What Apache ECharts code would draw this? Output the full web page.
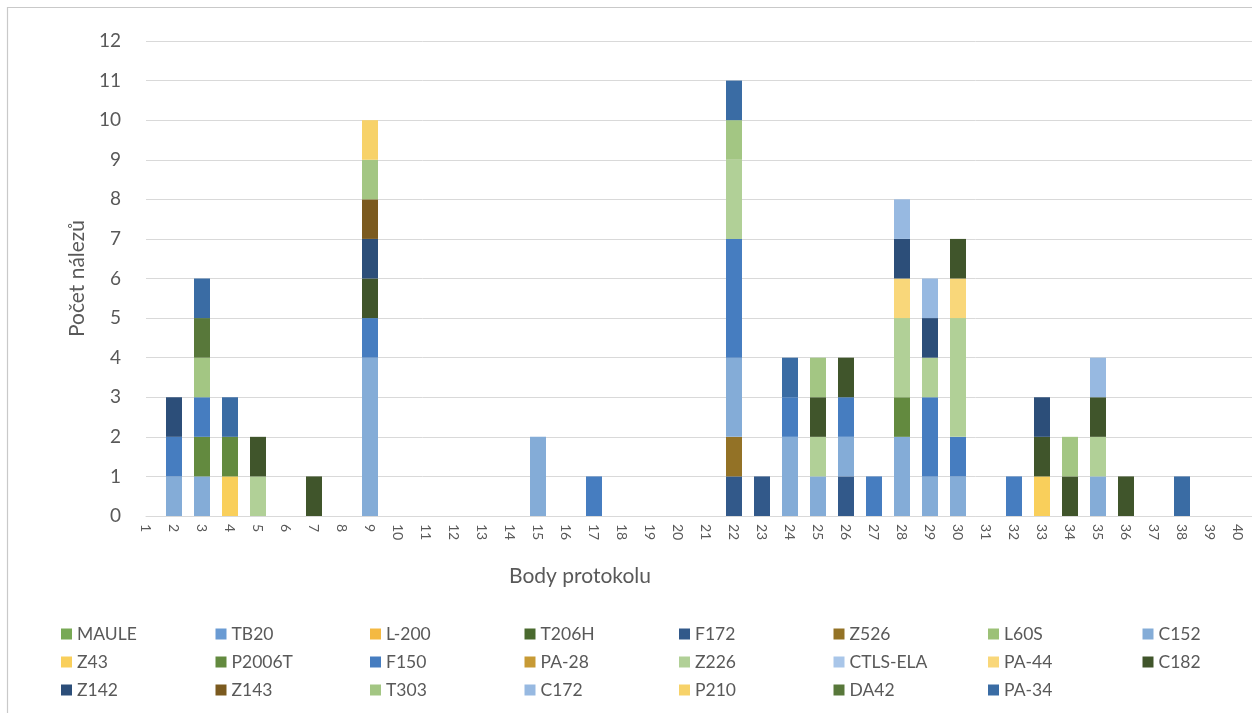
<!DOCTYPE html>
<html>
<head>
<meta charset="utf-8">
<script src="https://cdn.jsdelivr.net/npm/echarts@6/dist/echarts.min.js"></script>
<style>
html,body{margin:0;padding:0;background:#fff;}
#chart{width:1252px;height:713px;}
</style>
</head>
<body>
<div id="chart"></div>
<script>
// Categories (Body protokolu 1..40)
const categories = ['1','2','3','4','5','6','7','8','9','10','11','12','13','14','15','16','17','18','19','20',
                    '21','22','23','24','25','26','27','28','29','30','31','32','33','34','35','36','37','38','39','40'];
const yTicks = [0,1,2,3,4,5,6,7,8,9,10,11,12];

// Series values, one per category (1..40)
//                 1 2 3 4 5 6 7 8 9 10  11 12 13 14 15 16 17 18 19 20  21 22 23 24 25 26 27 28 29 30  31 32 33 34 35 36 37 38 39 40
const MAULE    = [0,0,0,0,0,0,0,0,0,0, 0,0,0,0,0,0,0,0,0,0, 0,0,0,0,0,0,0,0,0,0, 0,0,0,0,0,0,0,0,0,0];
const TB20     = [0,0,0,0,0,0,0,0,0,0, 0,0,0,0,0,0,0,0,0,0, 0,0,0,0,0,0,0,0,0,0, 0,0,0,0,0,0,0,0,0,0];
const L200     = [0,0,0,0,0,0,0,0,0,0, 0,0,0,0,0,0,0,0,0,0, 0,0,0,0,0,0,0,0,0,0, 0,0,0,0,0,0,0,0,0,0];
const T206H    = [0,0,0,0,0,0,0,0,0,0, 0,0,0,0,0,0,0,0,0,0, 0,0,0,0,0,0,0,0,0,0, 0,0,0,0,0,0,0,0,0,0];
const F172     = [0,0,0,0,0,0,0,0,0,0, 0,0,0,0,0,0,0,0,0,0, 0,1,1,0,0,1,0,0,0,0, 0,0,0,0,0,0,0,0,0,0];
const Z526     = [0,0,0,0,0,0,0,0,0,0, 0,0,0,0,0,0,0,0,0,0, 0,1,0,0,0,0,0,0,0,0, 0,0,0,0,0,0,0,0,0,0];
const L60S     = [0,0,0,0,0,0,0,0,0,0, 0,0,0,0,0,0,0,0,0,0, 0,0,0,0,0,0,0,0,0,0, 0,0,0,0,0,0,0,0,0,0];
const C152     = [0,1,1,0,0,0,0,0,4,0, 0,0,0,0,2,0,0,0,0,0, 0,2,0,2,1,1,0,2,1,1, 0,0,0,0,1,0,0,0,0,0];
const Z43      = [0,0,0,1,0,0,0,0,0,0, 0,0,0,0,0,0,0,0,0,0, 0,0,0,0,0,0,0,0,0,0, 0,0,1,0,0,0,0,0,0,0];
const P2006T   = [0,0,1,1,0,0,0,0,0,0, 0,0,0,0,0,0,0,0,0,0, 0,0,0,0,0,0,0,1,0,0, 0,0,0,0,0,0,0,0,0,0];
const F150     = [0,1,1,0,0,0,0,0,1,0, 0,0,0,0,0,0,1,0,0,0, 0,3,0,1,0,1,1,0,2,1, 0,1,0,0,0,0,0,0,0,0];
const PA28     = [0,0,0,0,0,0,0,0,0,0, 0,0,0,0,0,0,0,0,0,0, 0,0,0,0,0,0,0,0,0,0, 0,0,0,0,0,0,0,0,0,0];
const Z226     = [0,0,0,0,1,0,0,0,0,0, 0,0,0,0,0,0,0,0,0,0, 0,2,0,0,1,0,0,2,1,3, 0,0,0,0,1,0,0,0,0,0];
const CTLSELA  = [0,0,0,0,0,0,0,0,0,0, 0,0,0,0,0,0,0,0,0,0, 0,0,0,0,0,0,0,0,0,0, 0,0,0,0,0,0,0,0,0,0];
const PA44     = [0,0,0,0,0,0,0,0,0,0, 0,0,0,0,0,0,0,0,0,0, 0,0,0,0,0,0,0,1,0,1, 0,0,0,0,0,0,0,0,0,0];
const C182     = [0,0,0,0,1,0,1,0,1,0, 0,0,0,0,0,0,0,0,0,0, 0,0,0,0,1,1,0,0,0,1, 0,0,1,1,1,1,0,0,0,0];
const Z142     = [0,1,0,0,0,0,0,0,1,0, 0,0,0,0,0,0,0,0,0,0, 0,0,0,0,0,0,0,1,1,0, 0,0,1,0,0,0,0,0,0,0];
const Z143     = [0,0,0,0,0,0,0,0,1,0, 0,0,0,0,0,0,0,0,0,0, 0,0,0,0,0,0,0,0,0,0, 0,0,0,0,0,0,0,0,0,0];
const T303     = [0,0,1,0,0,0,0,0,1,0, 0,0,0,0,0,0,0,0,0,0, 0,1,0,0,1,0,0,0,0,0, 0,0,0,1,0,0,0,0,0,0];
const C172     = [0,0,0,0,0,0,0,0,0,0, 0,0,0,0,0,0,0,0,0,0, 0,0,0,0,0,0,0,1,1,0, 0,0,0,0,1,0,0,0,0,0];
const P210     = [0,0,0,0,0,0,0,0,1,0, 0,0,0,0,0,0,0,0,0,0, 0,0,0,0,0,0,0,0,0,0, 0,0,0,0,0,0,0,0,0,0];
const DA42     = [0,0,1,0,0,0,0,0,0,0, 0,0,0,0,0,0,0,0,0,0, 0,0,0,0,0,0,0,0,0,0, 0,0,0,0,0,0,0,0,0,0];
const PA34     = [0,0,1,1,0,0,0,0,0,0, 0,0,0,0,0,0,0,0,0,0, 0,1,0,1,0,0,0,0,0,0, 0,0,0,0,0,0,0,1,0,0];

const seriesNames = ['MAULE','TB20','L-200','T206H','F172','Z526','L60S','C152','Z43','P2006T','F150','PA-28',
                     'Z226','CTLS-ELA','PA-44','C182','Z142','Z143','T303','C172','P210','DA42','PA-34'];
const seriesValues = [MAULE,TB20,L200,T206H,F172,Z526,L60S,C152,Z43,P2006T,F150,PA28,
                      Z226,CTLSELA,PA44,C182,Z142,Z143,T303,C172,P210,DA42,PA34];
const seriesColors = ['#78A955','#6A9BD3','#F4B942','#4A6A2F','#32598A','#937226','#9CC177','#84ACD7',
                      '#F9CF5B','#638A3F','#467DC0','#C79A35','#B1D097','#A9C6E9','#F9D77A','#40552B',
                      '#2C4E79','#7B5A1F','#A3C683','#97B9E1','#F7D269','#58783A','#3A6CA4'];

const FONT = 'Lato, "Noto Sans", sans-serif';
const TXT = '#595959';
const GRIDC = '#D9D9D9';

const chart = echarts.init(document.getElementById('chart'), null, {renderer:'canvas'});

const series = seriesNames.map((n, i) => ({
  name: n,
  type: 'bar',
  stack: 'total',
  xAxisIndex: 0,
  yAxisIndex: 0,
  barWidth: 16,
  itemStyle: { color: seriesColors[i] },
  emphasis: { disabled: true },
  data: seriesValues[i].map(v => v === 0 ? null : v)
}));

chart.setOption({
  animation: false,
  backgroundColor: '#ffffff',
  textStyle: { fontFamily: FONT },
  graphic: [{
    type: 'rect', silent: true, z: -10,
    shape: { x: 7.5, y: 7.5, width: 1300, height: 800 },
    style: { fill: 'none', stroke: '#C9C9C9', lineWidth: 1.2 }
  }],
  grid: [
    { left: 132, right: 0, top: 41, bottom: 197, containLabel: false },
    { left: 146, right: 0, top: 41, bottom: 197, containLabel: false }
  ],
  xAxis: [
    {
      type: 'category', gridIndex: 0, data: categories,
      axisLine: { show: false }, axisTick: { show: false },
      axisLabel: { rotate: -90, fontSize: 14, color: TXT, fontFamily: FONT, margin: 8, interval: 0 },
      name: 'Body protokolu', nameLocation: 'middle', nameGap: 50,
      nameTextStyle: { fontSize: 21, color: TXT, fontFamily: FONT, padding: [0, 224, 0, 0] }
    },
    {
      type: 'value', gridIndex: 1, min: 0, max: 1,
      axisLine: { show: true, lineStyle: { color: GRIDC, width: 1 } },
      axisTick: { show: false }, axisLabel: { show: false }, splitLine: { show: false }
    }
  ],
  yAxis: [
    {
      type: 'value', gridIndex: 0, min: 0, max: 12, interval: 1,
      axisLine: { show: false }, axisTick: { show: false }, splitLine: { show: false },
      axisLabel: { fontSize: 19, color: TXT, fontFamily: FONT, margin: 11,
                   formatter: v => yTicks.includes(v) ? String(v) : '' },
      name: 'Počet nálezů', nameLocation: 'middle', nameRotate: 90, nameGap: 40,
      nameTextStyle: { fontSize: 21, color: TXT, fontFamily: FONT }
    },
    {
      type: 'value', gridIndex: 1, min: 0, max: 12, interval: 1,
      axisLine: { show: false }, axisTick: { show: false }, axisLabel: { show: false },
      splitLine: { show: true, lineStyle: { color: GRIDC, width: 1 } }
    }
  ],
  legend: {
    data: seriesNames,
    left: 56, top: 620, width: 1240,
    orient: 'horizontal',
    icon: 'rect', itemWidth: 11, itemHeight: 11, itemGap: 10,
    selectedMode: false,
    textStyle: { fontSize: 17.5, color: TXT, fontFamily: FONT, width: 128.5, lineHeight: 16 }
  },
  series: series
});
</script>
</body>
</html>
